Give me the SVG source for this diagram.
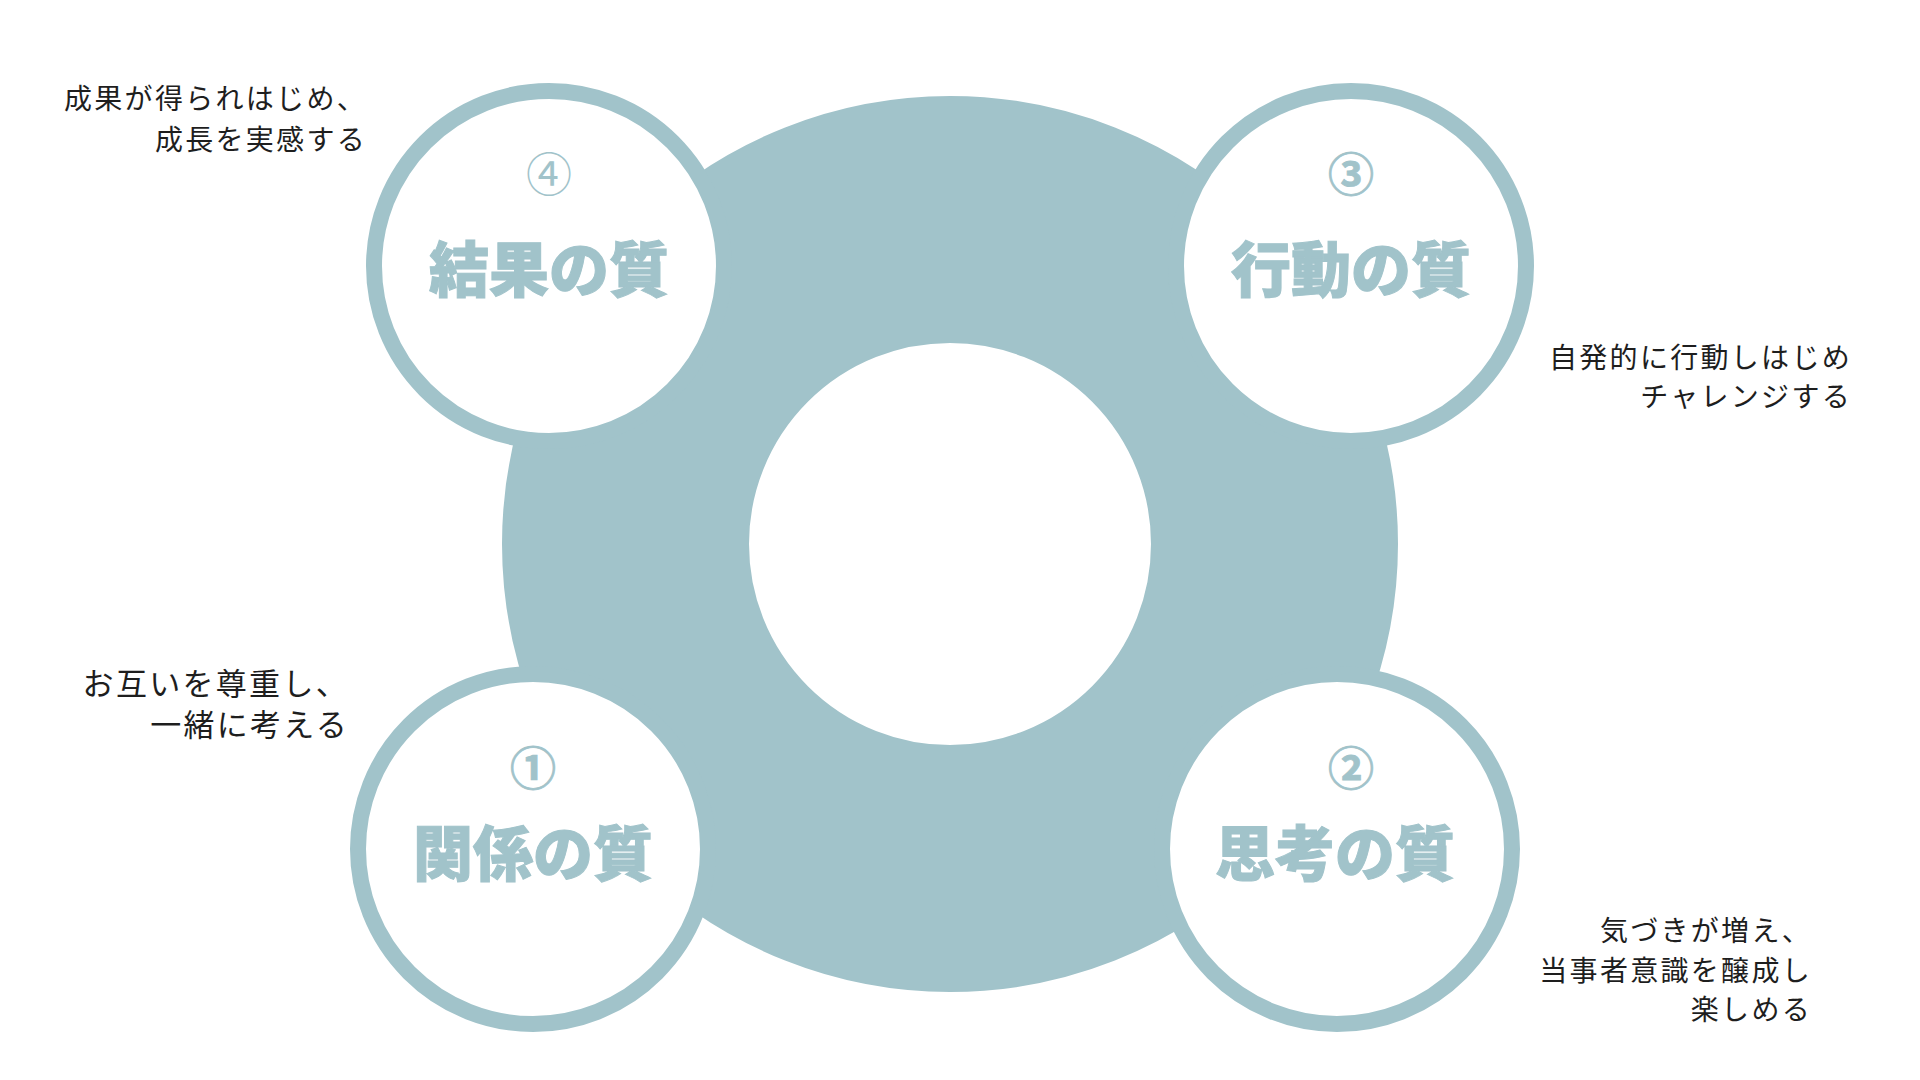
<svg xmlns="http://www.w3.org/2000/svg" width="1920" height="1080" viewBox="0 0 1920 1080">
  <style>
    .ring { fill: none; stroke: #a1c3ca; }
    .node-circle { fill: #ffffff; stroke: #a1c3ca; stroke-width: 16; }
    .num { font-family: "Noto Sans CJK JP", "Noto Sans", sans-serif; font-size: 46px; fill: #a1c3ca; text-anchor: middle; }
    .num-b { font-weight: 700; stroke: #a1c3ca; stroke-width: 0.8; }
    .title { font-family: "Noto Sans CJK JP", "Noto Sans", sans-serif; font-size: 60px; font-weight: 900; fill: #a1c3ca; stroke: #a1c3ca; stroke-width: 1; text-anchor: middle; }
    .label { font-family: "Noto Sans CJK JP", "Noto Sans", sans-serif; font-size: 28px; letter-spacing: 2.3px; fill: #1e1e1e; text-anchor: end; }
    .label-l { font-size: 31px; }
  </style>
  <rect width="1920" height="1080" fill="#ffffff"/>
  <g id="cycle-ring">
    <circle class="ring" cx="950" cy="544" r="324.5" stroke-width="247"/>
  </g>
  <g id="connectors"></g>
  <g id="node-4">
    <circle class="node-circle" cx="549" cy="266" r="175"/>
    <text class="num" x="549" y="191">④</text>
    <text class="title" x="549" y="292">結果の質</text>
    <text class="label" x="367" y="109">成果が得られはじめ、</text>
    <text class="label" x="367" y="150">成長を実感する</text>
  </g>
  <g id="node-3">
    <circle class="node-circle" cx="1351" cy="266" r="175"/>
    <text class="num num-b" x="1351" y="191">③</text>
    <text class="title" x="1351" y="292">行動の質</text>
    <text class="label" x="1852" y="368">自発的に行動しはじめ</text>
    <text class="label" x="1852" y="407">チャレンジする</text>
  </g>
  <g id="node-1">
    <circle class="node-circle" cx="533" cy="849" r="175"/>
    <text class="num num-b" x="533" y="785">①</text>
    <text class="title" x="533" y="876">関係の質</text>
    <text class="label label-l" x="349" y="695">お互いを尊重し、</text>
    <text class="label label-l" x="349" y="736">一緒に考える</text>
  </g>
  <g id="node-2">
    <circle class="node-circle" cx="1337" cy="849" r="175"/>
    <text class="num num-b" x="1351" y="785">②</text>
    <text class="title" x="1335" y="876">思考の質</text>
    <text class="label" x="1812" y="941">気づきが増え、</text>
    <text class="label" x="1812" y="981">当事者意識を醸成し</text>
    <text class="label" x="1812" y="1020">楽しめる</text>
  </g>
</svg>
